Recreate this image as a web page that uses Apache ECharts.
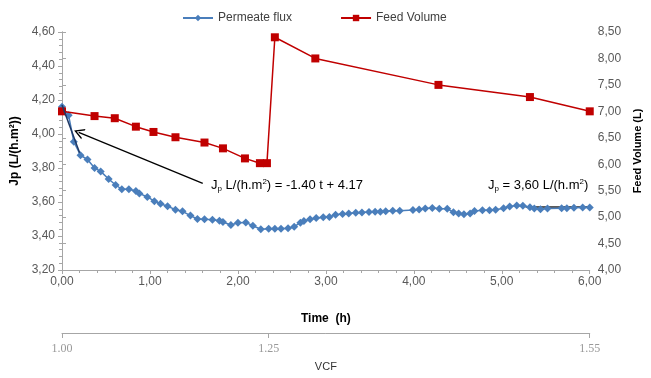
<!DOCTYPE html>
<html>
<head>
<meta charset="utf-8">
<script src="https://cdn.jsdelivr.net/npm/echarts@6/dist/echarts.min.js"></script>
<style>html,body{margin:0;padding:0;background:#fff;}#c{width:651px;height:378px;}</style>
</head>
<body>
<div id="c"></div>
<script>
// ---- data ----
const fluxTime = [0,0.075,0.134,0.21,0.29,0.37,0.44,0.53,0.61,0.68,
  0.76,0.84,0.88,0.97,1.05,1.12,1.20,1.29,1.37,1.46,
  1.54,1.62,1.71,1.79,1.83,1.92,2.00,2.09,2.17,2.26,
  2.35,2.42,2.49,2.57,2.64,2.71,2.75,2.82,2.89,2.97,
  3.04,3.11,3.19,3.26,3.34,3.41,3.49,3.56,3.62,3.68,
  3.76,3.84,3.99,4.06,4.13,4.21,4.29,4.38,4.45,4.51,
  4.57,4.64,4.69,4.78,4.86,4.93,5.02,5.09,5.17,5.24,
  5.32,5.37,5.44,5.52,5.68,5.74,5.82,5.92,6.00];
const fluxValue = [4.16,4.11,3.955,3.875,3.85,3.80,3.78,3.735,3.70,3.675,
  3.675,3.665,3.65,3.63,3.605,3.59,3.575,3.555,3.545,3.52,
  3.50,3.498,3.495,3.49,3.482,3.465,3.478,3.48,3.46,3.44,
  3.443,3.443,3.443,3.445,3.455,3.478,3.488,3.498,3.506,3.51,
  3.512,3.525,3.53,3.533,3.537,3.538,3.541,3.542,3.542,3.545,
  3.549,3.549,3.553,3.556,3.562,3.565,3.56,3.56,3.54,3.533,
  3.528,3.533,3.547,3.551,3.551,3.555,3.563,3.573,3.58,3.578,
  3.569,3.562,3.557,3.562,3.563,3.563,3.566,3.568,3.568];
const feedTime  = [0,0.37,0.60,0.84,1.04,1.29,1.62,1.83,2.08,2.25,2.33,2.42,2.88,4.28,5.32,6.00];
const feedValue = [7.0,6.91,6.87,6.71,6.61,6.51,6.41,6.30,6.11,6.02,6.02,8.40,8.00,7.50,7.27,7.00];
const fitInitTime = [0, 0.2];
const fitInitValue = [4.17, 3.89];
const fitSteadyTime = [5.27, 6.0];
const fitSteadyValue = [3.57, 3.57];
const arrowFrom = [1.60, 3.71];
const arrowTo = [0.19, 4.01];
const vcfTickTimes = [0, 2.35, 6];
const vcfTickLabels = ['1.00', '1.25', '1.55'];
const seriesNames = ['Permeate flux', 'Feed Volume'];

const zip = (a, b) => a.map((v, i) => [v, b[i]]);
const comma = v => v.toFixed(2).replace('.', ',');
const FONT = 'Liberation Sans';
const AX = '#a6a6a6';
const LBL = '#595959';

const chart = echarts.init(document.getElementById('c'), null, {renderer: 'canvas'});
chart.setOption({
  animation: false,
  textStyle: {fontFamily: FONT},
  legend: {
    top: 7, left: 177, itemWidth: 30, itemHeight: 8, itemGap: 48,
    textStyle: {fontFamily: FONT, fontSize: 12, color: '#404040'},
    data: seriesNames
  },
  grid: {left: 62, right: 50, top: 32, bottom: 108, containLabel: false},
  xAxis: [{
    type: 'value', min: 0, max: 6, interval: 1,
    axisLine: {onZero: false, lineStyle: {color: AX}},
    axisTick: {show: true, length: 4, lineStyle: {color: AX}},
    minorTick: {show: true, splitNumber: 5, length: 3, lineStyle: {color: AX}},
    splitLine: {show: false},
    axisLabel: {formatter: comma, color: LBL, fontSize: 12, fontFamily: FONT, margin: 6},
    name: 'Time  (h)', nameLocation: 'middle', nameGap: 43,
    nameTextStyle: {fontWeight: 'bold', fontSize: 12, color: '#000', fontFamily: FONT}
  }, {
    type: 'value', min: 0, max: 6, position: 'bottom', offset: 63,
    axisLine: {onZero: false, lineStyle: {color: AX}},
    axisTick: {show: true, customValues: vcfTickTimes, length: 5, lineStyle: {color: AX}},
    splitLine: {show: false},
    axisLabel: {customValues: vcfTickTimes, showMinLabel: true, showMaxLabel: true,
      formatter: v => vcfTickLabels[vcfTickTimes.indexOf(v)],
      color: '#999', fontSize: 12, fontFamily: 'Liberation Serif', margin: 10},
    name: 'VCF', nameLocation: 'middle', nameGap: 28,
    nameTextStyle: {fontSize: 11, color: '#333', fontFamily: FONT}
  }],
  yAxis: [{
    type: 'value', min: 3.2, max: 4.6, interval: 0.2, position: 'left',
    axisLine: {show: true, lineStyle: {color: AX}},
    axisTick: {show: true, length: 4, lineStyle: {color: AX}},
    minorTick: {show: true, splitNumber: 5, length: 3, lineStyle: {color: AX}},
    splitLine: {show: false},
    axisLabel: {formatter: comma, color: LBL, fontSize: 12, fontFamily: FONT, margin: 7},
    name: 'Jp (L/(h.m²))', nameLocation: 'middle', nameGap: 40, nameRotate: 90,
    nameTextStyle: {fontWeight: 'bold', fontSize: 12, color: '#000', fontFamily: FONT}
  }, {
    type: 'value', min: 4, max: 8.5, interval: 0.5, position: 'right',
    axisLine: {show: true, lineStyle: {color: AX}},
    axisTick: {show: true, length: 4, lineStyle: {color: AX}},
    splitLine: {show: false},
    axisLabel: {formatter: comma, color: LBL, fontSize: 12, fontFamily: FONT, margin: 8},
    name: 'Feed Volume (L)', nameLocation: 'middle', nameGap: 36, nameRotate: 90,
    nameTextStyle: {fontWeight: 'bold', fontSize: 11, color: '#000', fontFamily: FONT}
  }],
  series: [{
    name: seriesNames[0], type: 'line', xAxisIndex: 0, yAxisIndex: 0,
    data: zip(fluxTime, fluxValue),
    symbol: 'diamond', symbolSize: 8,
    itemStyle: {color: '#4A7EBB'}, lineStyle: {color: '#4A7EBB', width: 1.5},
    z: 3,
    markLine: {
      silent: true, symbol: ['none', 'path://M0,10 L5,0 L10,10 L8.6,10 L5,2.8 L1.4,10 Z'],
      symbolSize: [11, 10],
      lineStyle: {color: '#000', width: 1.3, type: 'solid'},
      label: {show: false},
      data: [[{coord: arrowFrom}, {coord: arrowTo}]]
    }
  }, {
    name: seriesNames[1], type: 'line', xAxisIndex: 0, yAxisIndex: 1,
    data: zip(feedTime, feedValue),
    symbol: 'rect', symbolSize: 8,
    itemStyle: {color: '#C00000'}, lineStyle: {color: '#C00000', width: 1.5},
    z: 4
  }, {
    name: 'fit1', type: 'line', xAxisIndex: 0, yAxisIndex: 0,
    data: zip(fitInitTime, fitInitValue), symbol: 'none',
    lineStyle: {color: '#1F3864', width: 1.5}, z: 5
  }, {
    name: 'fit2', type: 'line', xAxisIndex: 0, yAxisIndex: 0,
    data: zip(fitSteadyTime, fitSteadyValue), symbol: 'none',
    lineStyle: {color: '#262626', width: 1.5}, z: 2
  }],
  graphic: [{
    type: 'text', left: 211, top: 178,
    style: {
      text: '{a|J}{s|p}{a| L/(h.m}{u|2}{a|) = -1.40 t + 4.17}',
      rich: {
        a: {fontFamily: FONT, fontSize: 13, fill: '#000', lineHeight: 16},
        s: {fontFamily: FONT, fontSize: 8, fill: '#000', padding: [7, 0, 0, 0], lineHeight: 16},
        u: {fontFamily: FONT, fontSize: 8, fill: '#000', padding: [0, 0, 7, 0], lineHeight: 16}
      }
    }
  }, {
    type: 'text', left: 488, top: 178,
    style: {
      text: '{a|J}{s|p}{a| = 3,60 L/(h.m}{u|2}{a|)}',
      rich: {
        a: {fontFamily: FONT, fontSize: 13, fill: '#000', lineHeight: 16},
        s: {fontFamily: FONT, fontSize: 8, fill: '#000', padding: [7, 0, 0, 0], lineHeight: 16},
        u: {fontFamily: FONT, fontSize: 8, fill: '#000', padding: [0, 0, 7, 0], lineHeight: 16}
      }
    }
  }]
});
</script>
</body>
</html>
